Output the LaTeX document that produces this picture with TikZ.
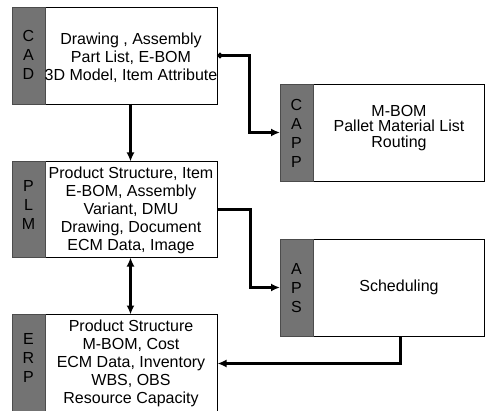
\documentclass[tikz,border=0pt]{standalone}
\usepackage{fontspec}
\setmainfont{Liberation Sans}
\usetikzlibrary{arrows.meta}
\begin{document}
\begin{tikzpicture}[x=1pt,y=-1pt,
  box/.style={draw=black, line width=0.9pt, fill=white, inner sep=0pt, outer sep=0pt, rectangle},
  stripe/.style={fill=black!55, draw=black!70, line width=0.6pt, inner sep=0pt, outer sep=0pt, minimum width=33pt, rectangle},
  txt/.style={align=center, font=\fontsize{16}{18}\selectfont, inner sep=0pt},
  tag/.style={align=center, font=\fontsize{16}{19}\selectfont, inner sep=0pt},
  conn/.style={line width=3pt, -{Latex[length=9pt,width=8pt]}},
]
\useasboundingbox (0,0) rectangle (486,411);
\begin{scope}
\clip (0,0) rectangle (486,411);
% boxes
\node[box, minimum width=205.5pt, minimum height=97pt] (cad) at (114.75,55.5) {};
\node[stripe, minimum height=97pt] (cadst) at (28.5,55.5) {};
\node[box, minimum width=205.5pt, minimum height=96pt] (plm) at (114.75,209.5) {};
\node[stripe, minimum height=96pt] (plmst) at (28.5,209.5) {};
\node[box, minimum width=205.5pt, minimum height=98pt] (erp) at (114.75,363.5) {};
\node[stripe, minimum height=98pt] (erpst) at (28.5,363.5) {};
\node[box, minimum width=204pt, minimum height=97pt] (capp) at (382,132.5) {};
\node[stripe, minimum height=97pt] (cappst) at (296.5,132.5) {};
\node[box, minimum width=204pt, minimum height=97pt] (aps) at (382,287.5) {};
\node[stripe, minimum height=97pt] (apsst) at (296.5,287.5) {};
% stripe letters
\node[tag] (cadtag) at (28.5,55) {C\\A\\D};
\node[tag] (plmtag) at (28.5,205) {P\\L\\M};
\node[tag] (erptag) at (28.5,358) {E\\R\\P};
\node[tag] (capptag) at (296.5,133) {C\\A\\P\\P};
\node[tag] (apstag) at (296.5,288) {A\\P\\S};
% texts
\node[txt] (cadtxt) at (131,58) {Drawing , Assembly\\Part List, E-BOM\\3D Model, Item Attribute};
\node[txt] (plmtxt) at (131,210) {Product Structure, Item\\E-BOM, Assembly\\Variant, DMU\\Drawing, Document\\ECM Data, Image};
\node[txt] (erptxt) at (131,363) {Product Structure\\M-BOM, Cost\\ECM Data, Inventory\\WBS, OBS\\Resource Capacity};
\node[txt, font=\fontsize{16}{15.5}\selectfont] (capptxt) at (399,128) {M-BOM\\Pallet Material List\\Routing};
\node[txt] (apstxt) at (399,287) {Scheduling};
% connectors
\coordinate (vx) at (130.5,0);
\coordinate (ax) at (400.5,0);
\draw[line width=3pt, {Circle[length=5pt]}-{Latex[length=9pt,width=8pt]}] (cad.east) -- ++(32,0) |- (capp.west);
\draw[conn] (cad.south -| vx) -- (plm.north -| vx);
\draw[conn] (plm.east) -- ++(33,0) |- (aps.west);
\draw[conn] (aps.south -| ax) |- (erp.east);
\draw[line width=3pt, {Latex[length=9pt,width=8pt]}-{Latex[length=9pt,width=8pt]}] (plm.south -| vx) -- (erp.north -| vx);
\end{scope}
\end{tikzpicture}
\end{document}
